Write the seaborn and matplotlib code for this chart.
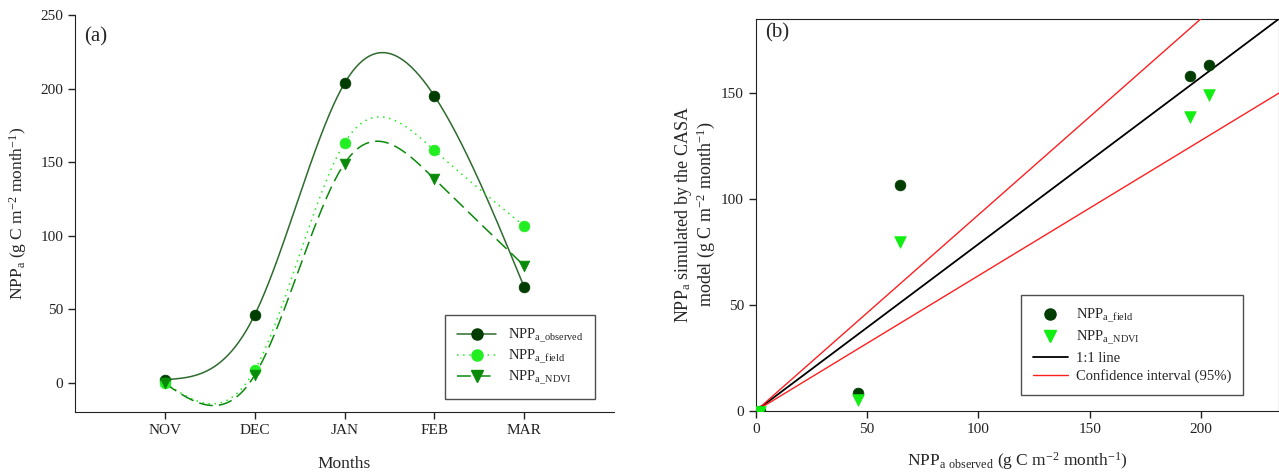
import numpy as np
import pandas as pd
import matplotlib
matplotlib.use("Agg")
import matplotlib.pyplot as plt
import seaborn as sns
from matplotlib.lines import Line2D

# Dados
months = ['NOV', 'DEC', 'JAN', 'FEB', 'MAR']
npp_observed = [2, 46, 203.5, 195, 65]
npp_field = [0, 8.5, 163, 158, 106.5]
npp_ndvi = [-0.5, 5, 149, 138.5, 79.5]

# inclinações das retas do painel (b)
slope_1to1 = 0.787
slope_ci = [0.925, 0.638]

c_obs = '#003d00'
c_obs_line = '#2e6b2e'
c_field = '#22ee22'
c_ndvi = '#0a8a0a'
c_ndvi_b = '#11ee11'


def spline_curve(y, n=400):
    # spline cúbica natural (como o "spline curve" do SigmaPlot)
    y = np.asarray(y, float)
    k = len(y)
    A = np.zeros((k, k))
    r = np.zeros(k)
    A[0, 0] = A[-1, -1] = 1
    for i in range(1, k - 1):
        A[i, i - 1:i + 2] = [1, 4, 1]
        r[i] = 6 * (y[i + 1] - 2 * y[i] + y[i - 1])
    M = np.linalg.solve(A, r)
    xs = np.linspace(0, k - 1, n)
    i = np.minimum(xs.astype(int), k - 2)
    t = xs - i
    ys = ((1 - t) * y[i] + t * y[i + 1]
          + ((1 - t) ** 3 - (1 - t)) * M[i] / 6 + (t ** 3 - t) * M[i + 1] / 6)
    return xs, ys


sns.set_style("ticks")
plt.rcParams['font.family'] = ['Liberation Serif', 'DejaVu Serif']
plt.rcParams['mathtext.fontset'] = 'custom'
plt.rcParams['mathtext.rm'] = 'Liberation Serif'
plt.rcParams['mathtext.default'] = 'regular'
plt.rcParams['axes.edgecolor'] = '#222222'
plt.rcParams['xtick.color'] = '#222222'
plt.rcParams['ytick.color'] = '#222222'

fig = plt.figure(figsize=(12.79, 4.75), dpi=100)
ax1 = fig.add_axes([75 / 1279, 1 - 412 / 475, 539 / 1279, 397 / 475])
ax2 = fig.add_axes([755.7 / 1279, 1 - 411 / 475, 523.3 / 1279, 392.3 / 475])

pos = np.arange(len(months))

# ---------- painel (a) ----------
series = [
    (npp_observed, c_obs_line, c_obs, '-', 'o'),
    (npp_field, c_field, c_field, (0, (1, 3)), 'o'),
    (npp_ndvi, c_ndvi, c_ndvi, (0, (9, 4)), 'v'),
]
handles_a = []
for vals, lc, mc, ls, mk in series:
    xs, ys = spline_curve(vals)
    sns.lineplot(x=xs, y=ys, ax=ax1, color=lc, linestyle=ls, linewidth=1.1,
                 estimator=None, sort=False)
    sns.scatterplot(x=pos, y=vals, ax=ax1, marker=mk, s=60, color=mc,
                    edgecolor=mc, linewidth=0.5, zorder=5)
    handles_a.append(Line2D([], [], color=lc, linestyle=ls, linewidth=1.1,
                            marker=mk, markersize=8, markerfacecolor=mc,
                            markeredgecolor=mc))

ax1.set_xlim(-1, 5)
ax1.set_ylim(-20, 250)
ax1.set_xticks(pos)
ax1.set_xticklabels(months)
ax1.set_yticks([0, 50, 100, 150, 200, 250])
ax1.tick_params(labelsize=11, length=5, width=1, direction='out')
ax1.set_xlabel('Months', fontsize=12.5, labelpad=14)
ax1.set_ylabel('NPP$_{a}$ (g C m$^{-2}$ month$^{-1}$)', fontsize=12.5, labelpad=8)
sns.despine(ax=ax1)
ax1.text(0.017, 0.945, '(a)', transform=ax1.transAxes, fontsize=15,
         va='center', ha='left')
leg1 = ax1.legend(handles_a,
                  ['NPP$_{a\\_observed}$', 'NPP$_{a\\_field}$', 'NPP$_{a\\_NDVI}$'],
                  loc='lower right', bbox_to_anchor=(0.965, 0.033),
                  borderaxespad=0, fontsize=10.5, frameon=True, fancybox=False,
                  edgecolor='#222222', handlelength=2.7, handletextpad=0.8,
                  borderpad=0.8, labelspacing=0.2)
leg1.get_frame().set_linewidth(1.0)

# ---------- painel (b) ----------
sns.scatterplot(x=npp_observed, y=npp_field, ax=ax2, marker='o', s=60,
                color=c_obs, edgecolor=c_obs, linewidth=0.5, zorder=5)
sns.scatterplot(x=npp_observed, y=npp_ndvi, ax=ax2, marker='v', s=70,
                color=c_ndvi_b, edgecolor=c_ndvi_b, linewidth=0.5, zorder=6)
ax2.axline((0, 0), slope=slope_1to1, color='black', linewidth=1.3, zorder=3)
for s in slope_ci:
    ax2.axline((0, 0), slope=s, color='#ff2020', linewidth=1.0, zorder=3)

ax2.set_xlim(0, 235)
ax2.set_ylim(0, 185)
ax2.set_xticks([0, 50, 100, 150, 200])
ax2.set_yticks([0, 50, 100, 150])
ax2.tick_params(labelsize=11, length=5, width=1, direction='out')
ax2.set_xlabel('NPP$_{a\\ observed}$ (g C m$^{-2}$ month$^{-1}$)', fontsize=12.5, labelpad=10)
ax2.set_ylabel('NPP$_{a}$ simulated by the CASA\nmodel (g C m$^{-2}$ month$^{-1}$)',
               fontsize=13, labelpad=3, linespacing=1.0)
ax2.text(0.018, 0.963, '(b)', transform=ax2.transAxes, fontsize=15,
         va='center', ha='left')
handles_b = [
    Line2D([], [], linestyle='none', marker='o', markersize=8, color=c_obs),
    Line2D([], [], linestyle='none', marker='v', markersize=8.5, color=c_ndvi_b),
    Line2D([], [], color='black', linewidth=1.3),
    Line2D([], [], color='#ff2020', linewidth=1.0),
]
leg2 = ax2.legend(handles_b,
                  ['NPP$_{a\\_field}$', 'NPP$_{a\\_NDVI}$', '1:1 line',
                   'Confidence interval (95%)'],
                  loc='lower right', bbox_to_anchor=(0.932, 0.041),
                  borderaxespad=0, fontsize=10.5, frameon=True, fancybox=False,
                  edgecolor='#222222', handlelength=2.4, handletextpad=0.6,
                  borderpad=0.8, labelspacing=0.3)
leg2.get_frame().set_linewidth(1.0)

fig.savefig('out.png', dpi=100)
